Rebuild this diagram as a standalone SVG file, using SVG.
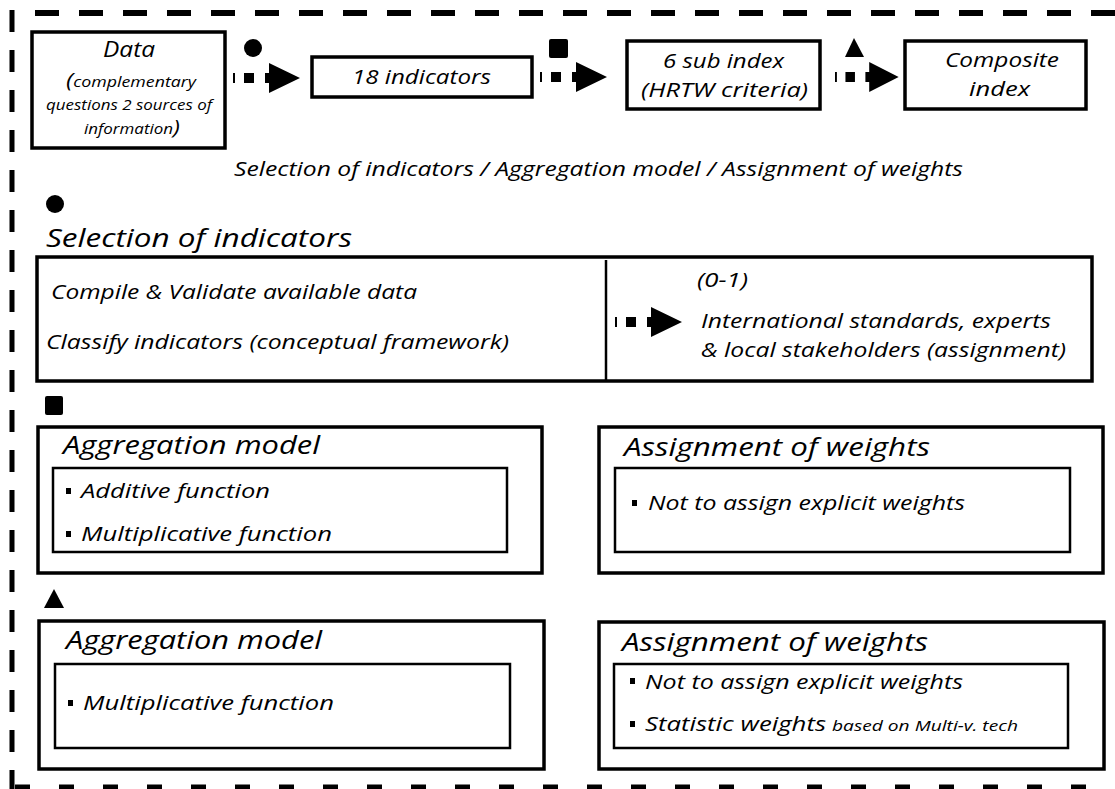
<svg xmlns="http://www.w3.org/2000/svg" width="1115" height="789" viewBox="0 0 1115 789">
<style>
.t{font-family:"Open Sans","DejaVu Sans",sans-serif;font-style:italic;fill:#000}
.b{font-size:20px}
.h{font-size:26px}
.s{font-size:14px}
.box{fill:#fff;stroke:#000;stroke-width:3.5}
.inner{fill:#fff;stroke:#000;stroke-width:2.5}
.dash{fill:none;stroke:#000}
</style>
<defs>
<g id="arrow">
<rect x="0" y="-5" width="2" height="10" fill="#000"/>
<rect x="11" y="-5" width="10" height="10" fill="#000"/>
<path d="M32,-5 H36 V-15 L67,0 L36,15 V5 H32 Z" fill="#000"/>
</g>
</defs>
<rect width="1115" height="789" fill="#fff"/>
<g id="frame">
<line class="dash" x1="35" y1="13" x2="1115" y2="13" stroke-width="6" stroke-dasharray="24 20"/>
<line class="dash" x1="12" y1="10" x2="12" y2="789" stroke-width="5" stroke-dasharray="22 18"/>
<line class="dash" x1="15" y1="787" x2="1115" y2="787" stroke-width="5" stroke-dasharray="15 29"/>
</g>
<g id="markers">
<circle cx="253" cy="48" r="9" fill="#000"/>
<rect x="549" y="39" width="19" height="19" rx="2" fill="#000"/>
<path d="M845,57 L864,57 L854,38 Z" fill="#000"/>
<circle cx="55" cy="204" r="9" fill="#000"/>
<rect x="45" y="396" width="18" height="19" rx="2" fill="#000"/>
<path d="M44,608 L64,608 L54,589 Z" fill="#000"/>
</g>
<g id="data">
<rect class="box" x="32" y="32" width="193" height="116"/>
<text class="t" font-size="22" x="103" y="57" textLength="52" lengthAdjust="spacingAndGlyphs">Data</text>
<text class="t s" x="66" y="87" textLength="130" lengthAdjust="spacingAndGlyphs"><tspan font-size="20">(</tspan>complementary</text>
<text class="t s" x="46" y="110" textLength="166" lengthAdjust="spacingAndGlyphs">questions 2 sources of</text>
<text class="t s" x="84" y="134" textLength="96" lengthAdjust="spacingAndGlyphs">information<tspan font-size="20">)</tspan></text>
</g>
<g id="indicators18">
<rect class="box" x="312" y="57" width="220" height="40"/>
<text class="t b" x="352" y="84" textLength="139" lengthAdjust="spacingAndGlyphs">18 indicators</text>
</g>
<g id="subindex">
<rect class="box" x="627" y="41" width="193" height="68"/>
<text class="t b" x="663" y="68" textLength="121" lengthAdjust="spacingAndGlyphs">6 sub index</text>
<text class="t b" x="641" y="97" textLength="167" lengthAdjust="spacingAndGlyphs">(HRTW criteria)</text>
</g>
<g id="composite">
<rect class="box" x="905" y="41" width="181" height="68"/>
<text class="t b" x="945" y="67" textLength="114" lengthAdjust="spacingAndGlyphs">Composite</text>
<text class="t b" x="969" y="96" textLength="61" lengthAdjust="spacingAndGlyphs">index</text>
</g>
<g id="subtitle">
<text class="t b" x="234" y="176" textLength="729" lengthAdjust="spacingAndGlyphs">Selection of indicators / Aggregation model / Assignment of weights</text>
</g>
<g id="selection">
<text class="t h" x="46" y="247" textLength="306" lengthAdjust="spacingAndGlyphs">Selection of indicators</text>
<rect class="box" x="37" y="257" width="1055" height="124"/>
<line x1="606" y1="260" x2="606" y2="381" stroke="#000" stroke-width="2.5"/>
<text class="t b" x="51" y="299" textLength="366" lengthAdjust="spacingAndGlyphs">Compile &amp; Validate available data</text>
<text class="t b" x="46" y="349" textLength="463" lengthAdjust="spacingAndGlyphs">Classify indicators (conceptual framework)</text>
<text class="t b" x="697" y="287" textLength="51" lengthAdjust="spacingAndGlyphs">(0-1)</text>
<text class="t b" x="701" y="328" textLength="350" lengthAdjust="spacingAndGlyphs">International standards, experts</text>
<text class="t b" x="701" y="357" textLength="365" lengthAdjust="spacingAndGlyphs">&amp; local stakeholders (assignment)</text>
</g>
<g id="aggregation1">
<rect class="box" x="38" y="427" width="504" height="146"/>
<text class="t h" x="63" y="454" textLength="257" lengthAdjust="spacingAndGlyphs">Aggregation model</text>
<rect class="inner" x="53" y="468" width="454" height="84"/>
<rect x="66" y="488" width="5" height="6" fill="#000"/>
<text class="t b" x="81" y="498" textLength="189" lengthAdjust="spacingAndGlyphs">Additive function</text>
<rect x="66" y="531" width="5" height="6" fill="#000"/>
<text class="t b" x="81" y="541" textLength="251" lengthAdjust="spacingAndGlyphs">Multiplicative function</text>
</g>
<g id="weights1">
<rect class="box" x="599" y="427" width="504" height="146"/>
<text class="t h" x="624" y="456" textLength="306" lengthAdjust="spacingAndGlyphs">Assignment of weights</text>
<rect class="inner" x="615" y="468" width="455" height="84"/>
<rect x="632" y="500" width="5" height="6" fill="#000"/>
<text class="t b" x="648" y="510" textLength="317" lengthAdjust="spacingAndGlyphs">Not to assign explicit weights</text>
</g>
<g id="aggregation2">
<rect class="box" x="39" y="621" width="505" height="148"/>
<text class="t h" x="66" y="649" textLength="256" lengthAdjust="spacingAndGlyphs">Aggregation model</text>
<rect class="inner" x="55" y="664" width="455" height="84"/>
<rect x="68" y="700" width="5" height="6" fill="#000"/>
<text class="t b" x="83" y="710" textLength="251" lengthAdjust="spacingAndGlyphs">Multiplicative function</text>
</g>
<g id="weights2">
<rect class="box" x="599" y="622" width="505" height="147"/>
<text class="t h" x="622" y="651" textLength="306" lengthAdjust="spacingAndGlyphs">Assignment of weights</text>
<rect class="inner" x="614" y="664" width="454" height="84"/>
<rect x="630" y="678" width="5" height="6" fill="#000"/>
<text class="t b" x="645" y="689" textLength="318" lengthAdjust="spacingAndGlyphs">Not to assign explicit weights</text>
<rect x="630" y="721" width="5" height="6" fill="#000"/>
<text class="t b" x="645" y="731" textLength="181" lengthAdjust="spacingAndGlyphs">Statistic weights</text>
<text class="t" font-size="15" x="832" y="731" textLength="186" lengthAdjust="spacingAndGlyphs">based on Multi-v. tech</text>
</g>
<g id="connectors">
<use href="#arrow" transform="translate(233,78)"/>
<use href="#arrow" transform="translate(540,77)"/>
<use href="#arrow" transform="translate(835,77) scale(0.95,1)"/>
<use href="#arrow" transform="translate(615,322)"/>
</g>
</svg>
